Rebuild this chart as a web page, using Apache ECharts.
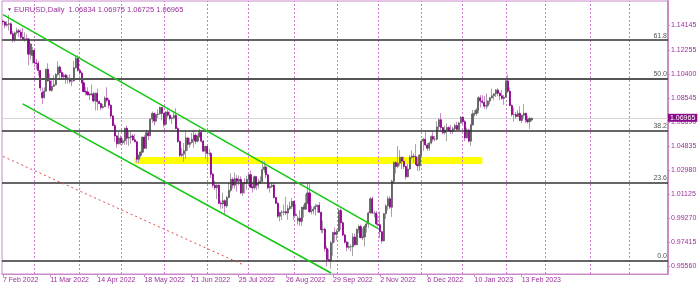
<!DOCTYPE html>
<html><head><meta charset="utf-8">
<script src="https://cdn.jsdelivr.net/npm/echarts@6/dist/echarts.min.js"></script>
<style>html,body{margin:0;padding:0;background:#fff}#c{width:700px;height:287px}</style>
</head><body><div id="c"></div>
<script>
// [date, open, high, low, close]
const ohlc = [
['2022-02-07',1.1448,1.1452,1.1413,1.1440],['2022-02-08',1.1440,1.1449,1.1391,1.1415],['2022-02-09',1.1415,1.1449,1.1403,1.1422],
['2022-02-10',1.1422,1.1495,1.1374,1.1426],['2022-02-11',1.1426,1.1436,1.1340,1.1349],['2022-02-14',1.1349,1.1369,1.1280,1.1304],
['2022-02-15',1.1304,1.1366,1.1286,1.1356],['2022-02-16',1.1356,1.1395,1.1342,1.1373],['2022-02-17',1.1373,1.1388,1.1323,1.1362],
['2022-02-18',1.1362,1.1383,1.1307,1.1322],['2022-02-21',1.1322,1.1395,1.1302,1.1307],['2022-02-22',1.1307,1.1360,1.1288,1.1309],
['2022-02-23',1.1309,1.1345,1.1301,1.1308],['2022-02-24',1.1308,1.1317,1.1106,1.1192],['2022-02-25',1.1192,1.1273,1.1149,1.1270],
['2022-02-28',1.1181,1.1248,1.1120,1.1220],
['2022-03-01',1.1220,1.1233,1.1089,1.1125],['2022-03-02',1.1125,1.1155,1.1076,1.1120],['2022-03-03',1.1120,1.1138,1.1026,1.1065],
['2022-03-04',1.1065,1.1069,1.0906,1.0930],['2022-03-07',1.0895,1.0934,1.0806,1.0855],['2022-03-08',1.0855,1.0936,1.0850,1.0906],
['2022-03-09',1.0906,1.1079,1.0902,1.1075],['2022-03-10',1.1075,1.1121,1.0980,1.0985],['2022-03-11',1.0985,1.1043,1.0906,1.0912],
['2022-03-14',1.0912,1.0989,1.0900,1.0943],['2022-03-15',1.0943,1.1029,1.0940,1.0955],['2022-03-16',1.0955,1.1046,1.0951,1.1035],
['2022-03-17',1.1035,1.1137,1.1019,1.1092],['2022-03-18',1.1092,1.1105,1.1003,1.1050],['2022-03-21',1.1050,1.1069,1.1000,1.1016],
['2022-03-22',1.1016,1.1045,1.0994,1.1030],['2022-03-23',1.1030,1.1040,1.0963,1.1008],['2022-03-24',1.1008,1.1028,1.0965,1.0995],
['2022-03-25',1.0995,1.1035,1.0965,1.0983],['2022-03-28',1.0983,1.0999,1.0945,1.0985],['2022-03-29',1.0985,1.1138,1.0980,1.1087],
['2022-03-30',1.1087,1.1185,1.1080,1.1158],['2022-03-31',1.1158,1.1183,1.1057,1.1067],
['2022-04-01',1.1067,1.1077,1.1028,1.1046],['2022-04-04',1.1046,1.1057,1.0965,1.0970],['2022-04-05',1.0970,1.0990,1.0896,1.0903],
['2022-04-06',1.0903,1.0937,1.0872,1.0900],['2022-04-07',1.0900,1.0935,1.0870,1.0880],['2022-04-08',1.0880,1.0895,1.0837,1.0876],
['2022-04-11',1.0876,1.0957,1.0873,1.0885],['2022-04-12',1.0885,1.0900,1.0820,1.0830],['2022-04-13',1.0830,1.0895,1.0757,1.0890],
['2022-04-14',1.0890,1.0925,1.0758,1.0826],['2022-04-15',1.0826,1.0836,1.0806,1.0810],['2022-04-18',1.0810,1.0815,1.0760,1.0780],
['2022-04-19',1.0780,1.0806,1.0769,1.0787],['2022-04-20',1.0787,1.0867,1.0782,1.0853],['2022-04-21',1.0853,1.0936,1.0820,1.0835],
['2022-04-22',1.0835,1.0851,1.0770,1.0797],['2022-04-25',1.0797,1.0804,1.0697,1.0714],['2022-04-26',1.0714,1.0723,1.0635,1.0640],
['2022-04-27',1.0640,1.0657,1.0515,1.0560],['2022-04-28',1.0560,1.0566,1.0470,1.0500],['2022-04-29',1.0500,1.0595,1.0494,1.0544],
['2022-05-02',1.0544,1.0565,1.0490,1.0508],['2022-05-03',1.0508,1.0542,1.0493,1.0522],['2022-05-04',1.0522,1.0623,1.0493,1.0620],
['2022-05-05',1.0620,1.0641,1.0493,1.0543],['2022-05-06',1.0543,1.0597,1.0483,1.0550],['2022-05-09',1.0550,1.0594,1.0500,1.0560],
['2022-05-10',1.0560,1.0575,1.0520,1.0530],['2022-05-11',1.0530,1.0577,1.0510,1.0515],['2022-05-12',1.0515,1.0519,1.0354,1.0380],
['2022-05-13',1.0380,1.0416,1.0350,1.0410],['2022-05-16',1.0410,1.0440,1.0390,1.0435],['2022-05-17',1.0435,1.0555,1.0430,1.0550],
['2022-05-18',1.0550,1.0565,1.0462,1.0465],['2022-05-19',1.0465,1.0608,1.0460,1.0585],['2022-05-20',1.0585,1.0596,1.0530,1.0562],
['2022-05-23',1.0562,1.0697,1.0558,1.0690],['2022-05-24',1.0690,1.0749,1.0662,1.0735],['2022-05-25',1.0735,1.0740,1.0640,1.0675],
['2022-05-26',1.0675,1.0735,1.0665,1.0725],['2022-05-27',1.0725,1.0765,1.0700,1.0730],['2022-05-30',1.0730,1.0787,1.0725,1.0780],
['2022-05-31',1.0780,1.0785,1.0680,1.0735],
['2022-06-01',1.0735,1.0737,1.0627,1.0650],['2022-06-02',1.0650,1.0751,1.0640,1.0745],['2022-06-03',1.0745,1.0765,1.0705,1.0720],
['2022-06-06',1.0720,1.0750,1.0680,1.0695],['2022-06-07',1.0695,1.0710,1.0652,1.0700],['2022-06-08',1.0700,1.0749,1.0690,1.0718],
['2022-06-09',1.0718,1.0774,1.0612,1.0617],['2022-06-10',1.0617,1.0630,1.0506,1.0518],['2022-06-13',1.0518,1.0525,1.0398,1.0410],
['2022-06-14',1.0410,1.0468,1.0397,1.0420],['2022-06-15',1.0420,1.0506,1.0359,1.0445],['2022-06-16',1.0445,1.0601,1.0382,1.0545],
['2022-06-17',1.0545,1.0550,1.0445,1.0495],['2022-06-20',1.0495,1.0545,1.0470,1.0510],['2022-06-21',1.0510,1.0583,1.0500,1.0535],
['2022-06-22',1.0535,1.0606,1.0469,1.0565],['2022-06-23',1.0565,1.0580,1.0495,1.0520],['2022-06-24',1.0520,1.0570,1.0510,1.0555],
['2022-06-27',1.0555,1.0615,1.0547,1.0585],['2022-06-28',1.0585,1.0605,1.0510,1.0520],['2022-06-29',1.0520,1.0530,1.0441,1.0442],
['2022-06-30',1.0442,1.0485,1.0380,1.0480],
['2022-07-01',1.0480,1.0485,1.0365,1.0425],['2022-07-04',1.0425,1.0460,1.0405,1.0425],['2022-07-05',1.0425,1.0437,1.0235,1.0265],
['2022-07-06',1.0265,1.0275,1.0161,1.0180],['2022-07-07',1.0180,1.0215,1.0143,1.0160],['2022-07-08',1.0160,1.0186,1.0072,1.0180],
['2022-07-11',1.0180,1.0185,1.0035,1.0040],['2022-07-12',1.0040,1.0060,0.9999,1.0035],['2022-07-13',1.0035,1.0122,0.9998,1.0060],
['2022-07-14',1.0060,1.0070,0.9952,1.0020],['2022-07-15',1.0020,1.0097,1.0005,1.0085],['2022-07-18',1.0085,1.0200,1.0080,1.0140],
['2022-07-19',1.0140,1.0272,1.0125,1.0225],['2022-07-20',1.0225,1.0240,1.0155,1.0180],['2022-07-21',1.0180,1.0278,1.0153,1.0230],
['2022-07-22',1.0230,1.0258,1.0130,1.0210],['2022-07-25',1.0210,1.0255,1.0180,1.0225],['2022-07-26',1.0225,1.0248,1.0110,1.0120],
['2022-07-27',1.0120,1.0205,1.0097,1.0200],['2022-07-28',1.0200,1.0234,1.0115,1.0195],['2022-07-29',1.0195,1.0254,1.0145,1.0225],
['2022-08-01',1.0225,1.0274,1.0185,1.0260],['2022-08-02',1.0260,1.0294,1.0160,1.0165],['2022-08-03',1.0165,1.0205,1.0123,1.0160],
['2022-08-04',1.0160,1.0254,1.0145,1.0245],['2022-08-05',1.0245,1.0250,1.0142,1.0180],['2022-08-08',1.0180,1.0230,1.0155,1.0195],
['2022-08-09',1.0195,1.0248,1.0190,1.0210],['2022-08-10',1.0210,1.0368,1.0200,1.0300],['2022-08-11',1.0300,1.0365,1.0275,1.0320],
['2022-08-12',1.0320,1.0330,1.0234,1.0260],['2022-08-15',1.0260,1.0265,1.0150,1.0160],['2022-08-16',1.0160,1.0200,1.0122,1.0170],
['2022-08-17',1.0170,1.0201,1.0159,1.0180],['2022-08-18',1.0180,1.0200,1.0075,1.0085],['2022-08-19',1.0085,1.0090,1.0035,1.0040],
['2022-08-22',1.0040,1.0049,0.9926,0.9940],['2022-08-23',0.9940,0.9975,0.9900,0.9970],['2022-08-24',0.9970,0.9986,0.9911,0.9970],
['2022-08-25',0.9970,1.0030,0.9946,0.9975],['2022-08-26',0.9975,1.0090,0.9950,0.9965],['2022-08-29',0.9965,1.0028,0.9913,1.0000],
['2022-08-30',1.0000,1.0055,0.9986,1.0015],['2022-08-31',1.0015,1.0079,0.9995,1.0055],
['2022-09-01',1.0055,1.0059,0.9910,0.9945],['2022-09-02',0.9945,1.0033,0.9940,0.9955],['2022-09-05',0.9905,0.9945,0.9876,0.9925],
['2022-09-06',0.9925,0.9987,0.9865,0.9900],['2022-09-07',0.9900,1.0012,0.9864,1.0010],['2022-09-08',1.0010,1.0029,0.9929,0.9995],
['2022-09-09',0.9995,1.0113,0.9990,1.0040],['2022-09-12',1.0040,1.0198,1.0035,1.0120],['2022-09-13',1.0120,1.0187,0.9966,0.9975],
['2022-09-14',0.9975,1.0020,0.9955,0.9980],['2022-09-15',0.9980,1.0017,0.9955,0.9995],['2022-09-16',0.9995,1.0036,0.9945,1.0015],
['2022-09-19',1.0015,1.0030,0.9967,1.0025],['2022-09-20',1.0025,1.0050,0.9965,0.9970],['2022-09-21',0.9970,0.9976,0.9810,0.9835],
['2022-09-22',0.9835,0.9905,0.9807,0.9840],['2022-09-23',0.9840,0.9852,0.9668,0.9690],['2022-09-26',0.9690,0.9710,0.9553,0.9605],
['2022-09-27',0.9605,0.9685,0.9593,0.9595],['2022-09-28',0.9595,0.9750,0.9535,0.9735],['2022-09-29',0.9735,0.9820,0.9635,0.9815],
['2022-09-30',0.9815,0.9853,0.9738,0.9800],
['2022-10-03',0.9800,0.9840,0.9754,0.9825],['2022-10-04',0.9825,0.9999,0.9820,0.9985],['2022-10-05',0.9985,0.9998,0.9835,0.9890],
['2022-10-06',0.9890,0.9900,0.9784,0.9795],['2022-10-07',0.9795,0.9808,0.9730,0.9740],['2022-10-10',0.9740,0.9748,0.9670,0.9700],
['2022-10-11',0.9700,0.9743,0.9685,0.9705],['2022-10-12',0.9705,0.9725,0.9668,0.9705],['2022-10-13',0.9705,0.9809,0.9632,0.9780],
['2022-10-14',0.9780,0.9806,0.9713,0.9720],['2022-10-17',0.9720,0.9845,0.9717,0.9840],['2022-10-18',0.9840,0.9875,0.9810,0.9860],
['2022-10-19',0.9860,0.9873,0.9768,0.9775],['2022-10-20',0.9775,0.9846,0.9755,0.9780],['2022-10-21',0.9780,0.9870,0.9705,0.9860],
['2022-10-24',0.9860,0.9905,0.9813,0.9880],['2022-10-25',0.9880,0.9977,0.9850,0.9965],['2022-10-26',0.9965,1.0088,0.9960,1.0075],
['2022-10-27',1.0075,1.0093,0.9955,0.9965],['2022-10-28',0.9965,0.9982,0.9932,0.9965],['2022-10-31',0.9965,0.9978,0.9870,0.9880],
['2022-11-01',0.9880,0.9953,0.9860,0.9875],['2022-11-02',0.9875,0.9977,0.9770,0.9820],['2022-11-03',0.9820,0.9826,0.9730,0.9750],
['2022-11-04',0.9750,0.9965,0.9745,0.9960],['2022-11-07',0.9960,1.0033,0.9920,1.0020],['2022-11-08',1.0020,1.0095,0.9985,1.0075],
['2022-11-09',1.0075,1.0095,0.9995,1.0010],['2022-11-10',1.0010,1.0222,0.9935,1.0210],['2022-11-11',1.0210,1.0365,1.0190,1.0355],
['2022-11-14',1.0355,1.0365,1.0270,1.0325],['2022-11-15',1.0325,1.0481,1.0310,1.0350],['2022-11-16',1.0350,1.0450,1.0330,1.0395],
['2022-11-17',1.0395,1.0400,1.0305,1.0365],['2022-11-18',1.0365,1.0400,1.0305,1.0325],['2022-11-21',1.0325,1.0330,1.0223,1.0245],
['2022-11-22',1.0245,1.0345,1.0240,1.0305],['2022-11-23',1.0305,1.0412,1.0298,1.0395],['2022-11-24',1.0395,1.0447,1.0380,1.0405],
['2022-11-25',1.0405,1.0425,1.0355,1.0400],['2022-11-28',1.0400,1.0497,1.0335,1.0340],['2022-11-29',1.0340,1.0395,1.0290,1.0330],
['2022-11-30',1.0330,1.0420,1.0290,1.0410],
['2022-12-01',1.0410,1.0536,1.0405,1.0520],['2022-12-02',1.0520,1.0545,1.0445,1.0535],['2022-12-05',1.0535,1.0595,1.0485,1.0490],
['2022-12-06',1.0490,1.0505,1.0445,1.0465],['2022-12-07',1.0465,1.0515,1.0445,1.0505],['2022-12-08',1.0505,1.0565,1.0495,1.0555],
['2022-12-09',1.0555,1.0590,1.0515,1.0535],['2022-12-12',1.0535,1.0560,1.0518,1.0535],['2022-12-13',1.0535,1.0673,1.0525,1.0630],
['2022-12-14',1.0630,1.0695,1.0590,1.0685],['2022-12-15',1.0685,1.0736,1.0593,1.0625],['2022-12-16',1.0625,1.0630,1.0575,1.0585],
['2022-12-19',1.0585,1.0640,1.0570,1.0605],['2022-12-20',1.0605,1.0658,1.0520,1.0625],['2022-12-21',1.0625,1.0635,1.0595,1.0600],
['2022-12-22',1.0600,1.0645,1.0575,1.0595],['2022-12-23',1.0595,1.0632,1.0575,1.0615],['2022-12-27',1.0615,1.0654,1.0605,1.0640],
['2022-12-28',1.0640,1.0670,1.0610,1.0610],['2022-12-29',1.0610,1.0670,1.0605,1.0660],['2022-12-30',1.0660,1.0713,1.0655,1.0705],
['2023-01-02',1.0705,1.0712,1.0650,1.0670],['2023-01-03',1.0670,1.0683,1.0520,1.0545],['2023-01-04',1.0545,1.0625,1.0540,1.0605],
['2023-01-05',1.0605,1.0615,1.0510,1.0520],['2023-01-06',1.0520,1.0650,1.0483,1.0645],['2023-01-09',1.0645,1.0760,1.0640,1.0730],
['2023-01-10',1.0730,1.0760,1.0710,1.0735],['2023-01-11',1.0735,1.0776,1.0715,1.0760],['2023-01-12',1.0760,1.0867,1.0735,1.0855],
['2023-01-13',1.0855,1.0875,1.0780,1.0830],['2023-01-16',1.0830,1.0875,1.0810,1.0820],['2023-01-17',1.0820,1.0870,1.0770,1.0790],
['2023-01-18',1.0790,1.0887,1.0765,1.0795],['2023-01-19',1.0795,1.0835,1.0780,1.0830],['2023-01-20',1.0830,1.0860,1.0805,1.0855],
['2023-01-23',1.0855,1.0925,1.0850,1.0870],['2023-01-24',1.0870,1.0890,1.0835,1.0885],['2023-01-25',1.0885,1.0920,1.0860,1.0915],
['2023-01-26',1.0915,1.0930,1.0865,1.0890],['2023-01-27',1.0890,1.0900,1.0835,1.0870],['2023-01-30',1.0870,1.0915,1.0840,1.0850],
['2023-01-31',1.0850,1.0875,1.0800,1.0860],
['2023-02-01',1.0860,1.0990,1.0855,1.0985],['2023-02-02',1.0985,1.1033,1.0890,1.0905],['2023-02-03',1.0905,1.0935,1.0790,1.0795],
['2023-02-06',1.0795,1.0805,1.0710,1.0725],['2023-02-07',1.0725,1.0780,1.0670,1.0725],['2023-02-08',1.0725,1.0745,1.0690,1.0710],
['2023-02-09',1.0710,1.0760,1.0705,1.0735],['2023-02-10',1.0735,1.0790,1.0675,1.0680],['2023-02-13',1.0680,1.0725,1.0660,1.0720],
['2023-02-14',1.0720,1.0805,1.0700,1.0735],['2023-02-15',1.0735,1.0740,1.0660,1.0685],['2023-02-16',1.0685,1.0715,1.0655,1.0670],
['2023-02-17',1.0670,1.0705,1.0613,1.0695],['2023-02-20',1.06834,1.06975,1.06725,1.06965]
];

const xLabelDates = ['2022-02-07','2022-03-11','2022-04-14','2022-05-18','2022-06-21','2022-07-25','2022-08-26','2022-09-29','2022-11-02','2022-12-06','2023-01-10','2023-02-13'];
const xLabelTexts = ['7 Feb 2022','11 Mar 2022','14 Apr 2022','18 May 2022','21 Jun 2022','25 Jul 2022','26 Aug 2022','29 Sep 2022','2 Nov 2022','6 Dec 2022','10 Jan 2023','13 Feb 2023'];
const yTicks = [1.14145,1.12255,1.10400,1.08545,1.06690,1.04835,1.02980,1.01125,0.99270,0.97415,0.95560];
const fibLevels = [0.9556,1.0216,1.0625,1.0955,1.1286];
const fibNames = ['0.0','23.6','38.2','50.0','61.8'];
const upperChannel = [['2022-02-07',1.1497],['2022-11-01',0.9844]];
const lowerChannel = [['2022-02-21',1.0808],['2022-09-28',0.9502]];
const redLine = [['2022-02-07',1.0402],['2022-07-28',0.9560]];
const yellowZone = [['2022-05-11',1.03977],['2023-01-16',1.03436]];
const lastPrice = 1.06965;
const titleText = 'EURUSD,Daily  1.06834 1.06975 1.06725 1.06965';

// category axis: trading days, then empty future weekdays
const cats = ohlc.map(r => r[0]);
const d = new Date(Date.UTC(2023, 1, 21));
while (cats.length < 339) {
  const wd = d.getUTCDay();
  if (wd !== 0 && wd !== 6) cats.push(d.toISOString().slice(0, 10));
  d.setUTCDate(d.getUTCDate() + 1);
}
const monthStarts = [];
for (let k = 1; k < cats.length; k++) {
  if (cats[k].slice(0, 7) !== cats[k - 1].slice(0, 7)) monthStarts.push(cats[k]);
}
const labelMap = {};
xLabelDates.forEach((dt, i) => labelMap[dt] = xLabelTexts[i]);
const showLabel = (idx, val) => labelMap[val] !== undefined;

const wickData = ohlc.map(r => [r[1], r[4], r[3], r[2]]);
const bodyData = ohlc.map(r => [r[1], r[4], Math.min(r[1], r[4]), Math.max(r[1], r[4])]);

const PURPLE_TXT = '#9a2f9a';
const AXIS = '#c98ac9';
const NARROW = "'Liberation Sans Narrow','Arial Narrow','Liberation Sans',sans-serif";

const chart = echarts.init(document.getElementById('c'), null, {renderer: 'canvas'});
chart.setOption({
  animation: false,
  backgroundColor: '#ffffff',
  title: {
    text: '{t|▼} ' + titleText, left: 2, top: 1,
    textStyle: {fontSize: 7.5, fontWeight: 'normal', color: PURPLE_TXT, fontFamily: NARROW,
      rich: {t: {fontSize: 5, color: '#7a1a7a'}}}
  },
  grid: {left: 0, right: 32, top: 1, bottom: 13, show: true, borderColor: AXIS, borderWidth: 1, backgroundColor: 'transparent'},
  xAxis: {
    type: 'category', data: cats, boundaryGap: true,
    axisLine: {show: true, lineStyle: {color: AXIS, width: 1}},
    axisTick: {show: true, alignWithLabel: true, interval: showLabel, length: 3, lineStyle: {color: AXIS}},
    axisLabel: {show: true, interval: showLabel, formatter: v => labelMap[v] || '', align: 'left',
      fontSize: 7, color: PURPLE_TXT, fontFamily: NARROW, margin: 3},
    splitLine: {show: false}
  },
  yAxis: {
    type: 'value', position: 'right', min: 0.9494, max: 1.1602, scale: true,
    axisLine: {show: true, lineStyle: {color: AXIS, width: 2}},
    axisTick: {show: true, customValues: yTicks, length: 2, lineStyle: {color: AXIS}},
    axisLabel: {show: true, customValues: yTicks, formatter: v => v.toFixed(5), fontSize: 7,
      color: PURPLE_TXT, fontFamily: "'Liberation Sans',sans-serif", margin: 3},
    splitLine: {show: false}
  },
  series: [
    {
      type: 'line', data: [], z: 1, silent: true,
      markArea: {silent: true, itemStyle: {color: '#ffff00', opacity: 1},
        data: [[{coord: yellowZone[0]}, {coord: yellowZone[1]}]]},
      markLine: {silent: true, symbol: ['none', 'none'], z: 1, label: {show: false},
        data: monthStarts.map(m => ({xAxis: m, lineStyle: {color: '#d07ad0', type: [2, 2], width: 1}}))
          .concat([{yAxis: lastPrice, lineStyle: {color: '#d6d6d6', type: 'solid', width: 1},
            label: {show: true, position: 'end', formatter: '1.06965', color: '#ffffff', backgroundColor: '#8a0a8a',
              padding: [1, 2, 0, 2], fontSize: 7, distance: 0, fontFamily: "'Liberation Sans',sans-serif"}}])}
    },
    {
      type: 'candlestick', data: wickData, z: 2, barWidth: 1, silent: true,
      itemStyle: {color: '#a4a4a4', color0: '#c98ac9', borderColor: '#a4a4a4', borderColor0: '#c98ac9', borderWidth: 1}
    },
    {
      type: 'candlestick', data: bodyData, z: 3, barWidth: 1.6, silent: true,
      itemStyle: {color: '#5e5e5e', color0: '#8e008e', borderColor: '#5e5e5e', borderColor0: '#8e008e', borderWidth: 0.8}
    },
    {
      type: 'line', data: [], z: 5, silent: true,
      markLine: {silent: true, symbol: ['none', 'none'], z: 5,
        data: fibLevels.map((v, i) => ({yAxis: v, lineStyle: {color: fibNames[i] === '50.0' ? '#555' : '#333', type: 'solid', width: fibNames[i] === '50.0' ? 2 : 1.5},
          label: {show: true, position: 'insideEndTop', formatter: fibNames[i], color: '#555', fontSize: 7, distance: 1,
            fontFamily: "'Liberation Sans',sans-serif"}}))
          .concat([
            [{coord: upperChannel[0], lineStyle: {color: '#14c814', width: 1.6, type: 'solid'}, label: {show: false}}, {coord: upperChannel[1]}],
            [{coord: lowerChannel[0], lineStyle: {color: '#14c814', width: 1.6, type: 'solid'}, label: {show: false}}, {coord: lowerChannel[1]}],
            [{coord: redLine[0], lineStyle: {color: '#e04848', width: 1, type: [2, 3]}, label: {show: false}}, {coord: redLine[1]}]
          ])}
    }
  ]
});
</script></body></html>
